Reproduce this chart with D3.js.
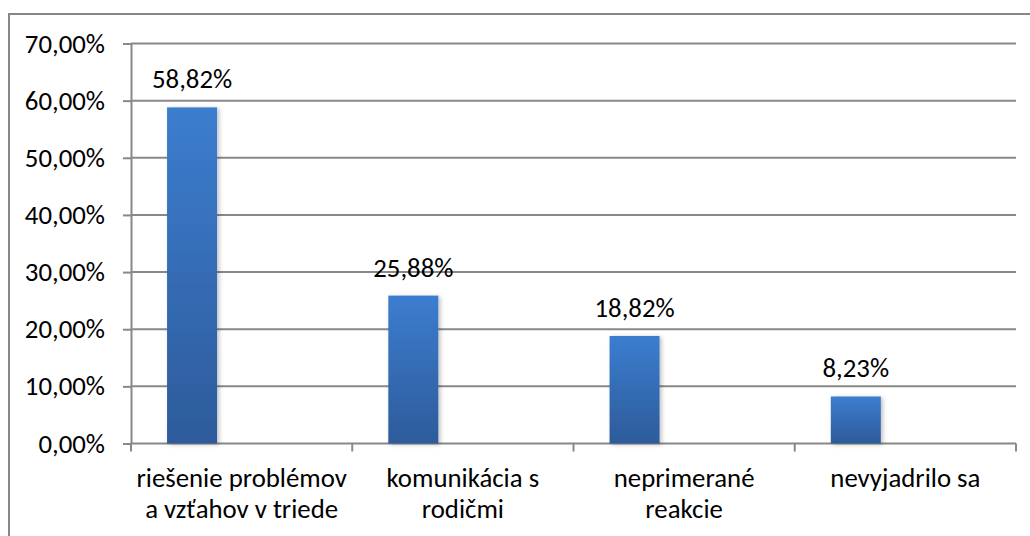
<!DOCTYPE html>
<html><head><meta charset="utf-8">
<script src="https://cdn.jsdelivr.net/npm/d3@7"></script>
<style>
html,body{margin:0;padding:0;background:#fff;}
svg{display:block;}
text{font-family:Carlito,"Open Sans",sans-serif;fill:#000;}
</style></head>
<body>
<svg id="c" width="1030" height="536"></svg>
<script>
const categories = [["riešenie problémov","a vzťahov v triede"],["komunikácia s","rodičmi"],["neprimerané","reakcie"],["nevyjadrilo sa"]];
const values = [58.82, 25.88, 18.82, 8.23];
const valueLabels = ["58,82%","25,88%","18,82%","8,23%"];
const yTicks = [0,10,20,30,40,50,60,70];
const yTickLabels = ["0,00%","10,00%","20,00%","30,00%","40,00%","50,00%","60,00%","70,00%"];

(function(){
const svg = d3.select("#c");
const fs = 26.8;
const pLeft = 131, pRight = 1016, pTop = 43.5, pBottom = 443.5;

const defs = svg.append("defs");
const g = defs.append("linearGradient").attr("id","barg").attr("x1",0).attr("y1",0).attr("x2",0).attr("y2",1);
g.append("stop").attr("offset","0%").attr("stop-color","#3c7dcf");
g.append("stop").attr("offset","100%").attr("stop-color","#2d5b9a");
const f = defs.append("filter").attr("id","sh").attr("x","-20%").attr("y","-10%").attr("width","150%").attr("height","130%");
f.append("feDropShadow").attr("dx",2).attr("dy",1).attr("stdDeviation",2).attr("flood-color","#000").attr("flood-opacity",0.25);

// outer border
svg.append("rect").attr("x",9).attr("y",14).attr("width",1040).attr("height",560)
  .attr("fill","none").attr("stroke","#878787").attr("stroke-width",2);

const y = d3.scaleLinear().domain([0,70]).range([pBottom, pTop]);
const x = d3.scaleBand().domain(d3.range(categories.length)).range([pLeft, pRight]).paddingInner(0).paddingOuter(0);

// gridlines
svg.append("g").selectAll("line").data(yTicks).join("line")
  .attr("x1",pLeft).attr("x2",pRight).attr("y1",d=>y(d)).attr("y2",d=>y(d))
  .attr("stroke","#888").attr("stroke-width",2);

// y axis
const yAxis = d3.axisLeft(y).tickValues(yTicks).tickFormat((d,i)=>yTickLabels[i]).tickSizeInner(8).tickSizeOuter(0).tickPadding(18);
const ya = svg.append("g").attr("transform",`translate(${pLeft},0)`).call(yAxis);
ya.select(".domain").attr("stroke","#888").attr("stroke-width",2);
ya.selectAll(".tick line").attr("stroke","#888").attr("stroke-width",2);
ya.selectAll(".tick text").attr("font-size",fs).attr("font-family","Carlito,'Open Sans',sans-serif").attr("fill","#000").attr("dy","0.32em");

// x axis ticks
const xa = svg.append("g").attr("transform",`translate(0,${pBottom})`);
xa.append("g").selectAll("line").data(d3.range(categories.length+1)).join("line")
  .attr("x1",i=>pLeft + i*x.step()).attr("x2",i=>pLeft + i*x.step()).attr("y1",0).attr("y2",8)
  .attr("stroke","#888").attr("stroke-width",2);

// bars
const bw = x.bandwidth()*0.226;
const off = x.bandwidth()*0.163;
svg.append("g").selectAll("rect").data(values).join("rect")
  .attr("x",(d,i)=>x(i)+off).attr("width",bw)
  .attr("y",d=>y(d)).attr("height",d=>pBottom - y(d))
  .attr("fill","url(#barg)").attr("filter","url(#sh)");

// value labels
svg.append("g").selectAll("text").data(values).join("text")
  .attr("x",(d,i)=>x(i)+off+bw/2).attr("y",d=>y(d)-19)
  .attr("text-anchor","middle").attr("font-size",fs).text((d,i)=>valueLabels[i]);

// category labels
const cl = svg.append("g").selectAll("text").data(categories).join("text")
  .attr("text-anchor","middle").attr("font-size",fs)
  .attr("x",(d,i)=>x(i)+x.bandwidth()/2).attr("y",pBottom+43);
cl.selectAll("tspan").data(d=>d).join("tspan")
  .attr("x",function(){return this.parentNode.getAttribute("x");})
  .attr("dy",(d,i)=>i===0?0:31).text(d=>d);
})();
</script>
</body></html>
